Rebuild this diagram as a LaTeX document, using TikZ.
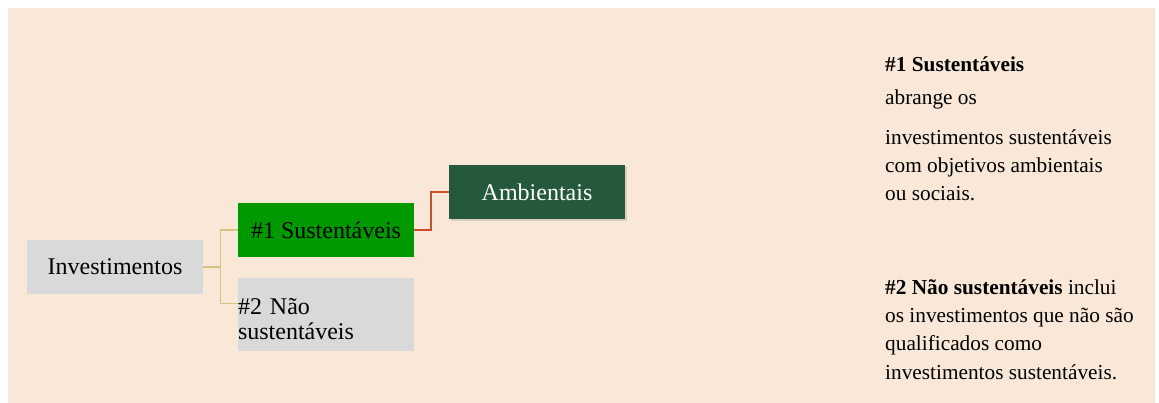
\documentclass[tikz,border=0pt]{standalone}
\usepackage{fontspec}
\setmainfont{Liberation Serif}
\usetikzlibrary{shadows}

\definecolor{fundo}{HTML}{F9E8D8}
\definecolor{cinza}{HTML}{D9D9D9}
\definecolor{verde}{HTML}{009A00}
\definecolor{verdeesc}{HTML}{245A3B}
\definecolor{caqui}{HTML}{D3C580}
\definecolor{telha}{HTML}{C8512C}

\begin{document}
\begin{tikzpicture}[x=1pt, y=-1pt,
    caixa/.style={rectangle, inner sep=0pt, minimum width=176pt, minimum height=54pt,
      font=\fontsize{24}{25}\selectfont},
    nota/.style={anchor=base west, inner sep=0pt, align=left,
      font=\fontsize{21.3}{28.3}\selectfont},
    ramo/.style={caqui, line width=1.3pt},
    ramoamb/.style={telha, line width=2pt}]
    \useasboundingbox (0,0) rectangle (1159,403);
    \fill[fundo] (8,8) rectangle (1155,403);

    % arvore
    \node[caixa, fill=cinza, minimum height=73pt, text width=176pt, align=left, text height=26pt]
      (naosust) at (326,314.5) {\#2 Não\\sustentáveis};
    \node[caixa, fill=cinza] (inv) at (115,267) {Investimentos};
    \node[caixa, fill=verde] (sust) at (326,230) {\#1 Sustentáveis};
    \node[caixa, fill=verdeesc, text=white,
      drop shadow={opacity=0.25, shadow xshift=2pt, shadow yshift=-2pt}] (amb) at (537,192) {Ambientais};

    \draw[ramo] (inv.east) -- ([xshift=17pt]inv.east) |- (sust.west);
    \draw[ramo] ([xshift=17pt]inv.east) |- ([yshift=11pt]naosust.west);
    \draw[ramoamb] (sust.east) -- ([xshift=17pt]sust.east) |- (amb.west);

    % notas (base = ultima linha)
    \node[nota] (tit1) at (885,71.7) {\textbf{\#1 Sustentáveis}};
    \node[nota] (txt1a) at (885,105) {abrange os};
    \node[nota] (txt1b) at (885,201) {investimentos sustentáveis\\com objetivos ambientais\\ou sociais.};
    \node[nota] (txt2) at (885,379) {\textbf{\#2 Não sustentáveis} inclui\\os investimentos que não são\\qualificados como\\investimentos sustentáveis.};
\end{tikzpicture}
\end{document}
